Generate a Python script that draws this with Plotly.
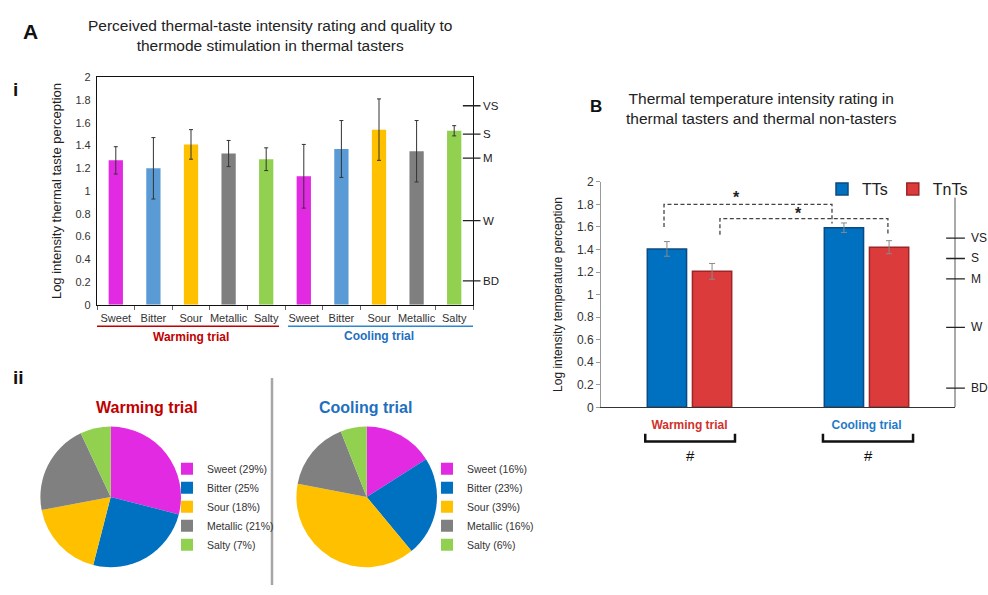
import plotly.graph_objects as go

W, H = 988, 595
FONT = "Liberation Sans, Arial, sans-serif"


def px(x):
    return x / W


def py(y):
    return 1 - y / H


# ---------------- data ----------------
tastes = ["Sweet", "Bitter", "Sour", "Metallic", "Salty"]
bar_colors = ["#E32AE3", "#5B9BD5", "#FFC000", "#7F7F7F", "#92D050"]
pie_colors = ["#E32AE3", "#0070C0", "#FFC000", "#808080", "#92D050"]

warm_vals = [1.27, 1.20, 1.41, 1.33, 1.28]
warm_err = [0.12, 0.27, 0.13, 0.115, 0.10]
cool_vals = [1.13, 1.37, 1.54, 1.35, 1.53]
cool_err = [0.28, 0.25, 0.27, 0.27, 0.045]

scaleA_labels = ["VS", "S", "M", "W", "BD"]
scaleA_vals = [1.75, 1.50, 1.29, 0.74, 0.21]

warm_pie = [29, 25, 18, 21, 7]
warm_pie_labels = ["Sweet (29%)", "Bitter (25%", "Sour (18%)", "Metallic (21%)", "Salty (7%)"]
cool_pie = [16, 23, 39, 16, 6]
cool_pie_labels = ["Sweet (16%)", "Bitter (23%)", "Sour (39%)", "Metallic (16%)", "Salty (6%)"]

trials = ["Warming trial", "Cooling trial"]
tts_vals = [1.405, 1.593]
tts_err = [0.065, 0.042]
tnts_vals = [1.206, 1.42]
tnts_err = [0.07, 0.058]

scaleB_labels = ["VS", "S", "M", "W", "BD"]
scaleB_vals = [1.50, 1.32, 1.14, 0.71, 0.17]

# ---------------- figure ----------------
fig = go.Figure()

# Panel A bars
xA = list(range(len(tastes) * 2))
fig.add_trace(go.Bar(
    x=xA, y=warm_vals + cool_vals,
    marker=dict(color=bar_colors + bar_colors, line=dict(width=0)),
    error_y=dict(type="data", array=warm_err + cool_err, color="#333333",
                 thickness=1, width=2),
    width=0.38, offset=-0.19, xaxis="x", yaxis="y", showlegend=False,
))

# Panel B bars
fig.add_trace(go.Bar(
    x=trials, y=tts_vals, name="TTs",
    marker=dict(color="#0070C0", line=dict(color="#0B4A80", width=1.5)),
    error_y=dict(type="data", array=tts_err, color="#8A8A8A", thickness=1, width=3),
    xaxis="x2", yaxis="y2", legend="legend",
))
fig.add_trace(go.Bar(
    x=trials, y=tnts_vals, name="TnTs",
    marker=dict(color="#DB3B3B", line=dict(color="#9E2525", width=1.5)),
    error_y=dict(type="data", array=tnts_err, color="#8A8A8A", thickness=1, width=3),
    xaxis="x2", yaxis="y2", legend="legend",
))

# Pies
r = 72
for cx, vals, labs, leg in [(110.7, warm_pie, warm_pie_labels, "legend2"),
                            (366.7, cool_pie, cool_pie_labels, "legend3")]:
    fig.add_trace(go.Pie(
        values=vals, labels=labs, marker=dict(colors=pie_colors, line=dict(width=0)),
        sort=False, direction="clockwise", rotation=0, textinfo="none",
        hoverinfo="label", legend=leg,
        domain=dict(x=[px(cx - r), px(cx + r)], y=[py(501.7 + r), py(501.7 - r)]),
    ))

shapes = []
annotations = []

# Panel A right scale
for lab, v in zip(scaleA_labels, scaleA_vals):
    shapes.append(dict(type="line", xref="x domain", yref="y", x0=0.973, x1=1.02,
                       y0=v, y1=v, line=dict(color="#222222", width=1.3)))
    annotations.append(dict(xref="x domain", yref="y", x=1.022, y=v, text=lab,
                            showarrow=False, xanchor="left", yanchor="middle",
                            font=dict(size=11.5, color="#222222")))

# Panel A trial underlines and labels
shapes.append(dict(type="line", xref="x", yref="paper", x0=-0.66, x1=4.34,
                   y0=py(327), y1=py(327), line=dict(color="#C00000", width=1.5)))
shapes.append(dict(type="line", xref="x", yref="paper", x0=4.58, x1=9.58,
                   y0=py(327), y1=py(327), line=dict(color="#2F86D0", width=1.5)))
annotations.append(dict(xref="x", yref="paper", x=2.0, y=py(338), text="<b>Warming trial</b>",
                        showarrow=False, yanchor="middle", font=dict(size=12, color="#C00000")))
annotations.append(dict(xref="x", yref="paper", x=7.0, y=py(337), text="<b>Cooling trial</b>",
                        showarrow=False, yanchor="middle", font=dict(size=12, color="#1F6FC0")))

# Panel B right scale
shapes.append(dict(type="line", xref="x2 domain", yref="y2", x0=1, x1=1, y0=0, y1=1.86,
                   line=dict(color="#555555", width=1)))
for lab, v in zip(scaleB_labels, scaleB_vals):
    shapes.append(dict(type="line", xref="x2 domain", yref="y2", x0=0.975, x1=1.028,
                       y0=v, y1=v, line=dict(color="#222222", width=1.3)))
    annotations.append(dict(xref="x2 domain", yref="y2", x=1.04, y=v, text=lab,
                            showarrow=False, xanchor="left", yanchor="middle",
                            font=dict(size=12, color="#222222")))

# Panel B significance brackets (dashed)
dash = dict(color="#444444", width=1.3, dash="4px,2.5px")
shapes.append(dict(type="path", xref="x2", yref="y2",
                   path="M -0.144,1.60 L -0.144,1.80 L 0.805,1.80 L 0.805,1.63", line=dash))
shapes.append(dict(type="path", xref="x2", yref="y2",
                   path="M 0.172,1.53 L 0.172,1.673 L 1.121,1.673 L 1.121,1.53", line=dash))
annotations.append(dict(xref="x2", yref="y2", x=0.263, y=1.86, text="<b>*</b>",
                        showarrow=False, font=dict(size=16, color="#222222")))
annotations.append(dict(xref="x2", yref="y2", x=0.613, y=1.72, text="<b>*</b>",
                        showarrow=False, font=dict(size=16, color="#222222")))

# Panel B bottom brackets and #
for x0, x1 in [(-0.25, 0.257), (0.754, 1.263)]:
    shapes.append(dict(type="path", xref="x2", yref="paper",
                       path=f"M {x0},{py(437)} L {x0},{py(445)} L {x1},{py(445)} L {x1},{py(437)}",
                       line=dict(color="#111111", width=2.5)))
    annotations.append(dict(xref="x2", yref="paper", x=(x0 + x1) / 2, y=py(459), text="#",
                            showarrow=False, yanchor="middle",
                            font=dict(size=15, color="#111111")))

# Separator line for pies
shapes.append(dict(type="line", xref="paper", yref="paper", x0=px(272), x1=px(272),
                   y0=py(380), y1=py(592), line=dict(color="#A6A6A6", width=2.5)))

# Texts: panel letters and titles
def txt(x, y, s, size, color="#111111", anchor="center"):
    annotations.append(dict(xref="paper", yref="paper", x=px(x), y=py(y), text=s,
                            showarrow=False, xanchor=anchor, yanchor="middle",
                            font=dict(size=size, color=color)))

txt(31, 25, "<b>A</b>", 21)
txt(270, 29, "Perceived thermal-taste intensity rating and quality to<br>thermode stimulation in thermal tasters", 15.5, "#222222")
txt(15, 84, "<b>i</b>", 19)
txt(18, 379, "<b>ii</b>", 19)
txt(147, 410, "<b>Warming trial</b>", 16, "#C00000")
txt(365, 410, "<b>Cooling trial</b>", 16, "#1F6FC0")
txt(596, 102, "<b>B</b>", 17)
txt(761, 104, "Thermal temperature intensity rating in<br>thermal tasters and thermal non-tasters", 15.5, "#222222")

axis_font = dict(size=11, color="#333333")
fig.update_layout(
    width=W, height=H, margin=dict(l=0, r=0, t=0, b=0),
    paper_bgcolor="white", plot_bgcolor="white",
    font=dict(family=FONT, color="#222222"),
    barmode="group", bargap=0.49, bargroupgap=0.13,
    xaxis=dict(domain=[px(97), px(473)], range=[-0.5, 9.5], tickmode="array", anchor="y",
               tickvals=xA, ticktext=tastes + tastes, ticks="", tickfont=axis_font,
               ticklabelstandoff=3,
               showline=True, linecolor="#111111", linewidth=1.2, mirror=True,
               showgrid=False, zeroline=False, fixedrange=True,
               minor=dict(ticks="outside", tickmode="linear", tick0=-0.5, dtick=1,
                          ticklen=4, tickcolor="#666666")),
    yaxis=dict(domain=[py(305), py(72)], range=[0, 2], dtick=0.2, tickfont=axis_font,
               anchor="x", showline=True, linecolor="#111111", linewidth=1.2, mirror=True,
               showgrid=False, zeroline=False, ticks="", ticklabelstandoff=3,
               title=dict(text="Log intensity thermal taste perception",
                          font=dict(size=13, color="#222222"), standoff=10)),
    xaxis2=dict(domain=[px(601), px(955)], range=[-0.5, 1.5], type="category", anchor="y2",
                tickmode="array", tickvals=trials,
                ticktext=["<b><span style='color:#D0312D'>Warming trial</span></b>",
                          "<b><span style='color:#1F7BC8'>Cooling trial</span></b>"],
                ticks="", tickfont=dict(size=12), ticklabelstandoff=6,
                showline=True, linecolor="#333333",
                linewidth=1.3, showgrid=False, zeroline=False),
    yaxis2=dict(domain=[py(410), py(179)], range=[0, 2], dtick=0.2, anchor="x2",
                tickfont=dict(size=12, color="#333333"), showline=True,
                linecolor="#999999", linewidth=1, ticks="outside", ticklen=4,
                tickcolor="#999999", showgrid=False, zeroline=False,
                title=dict(text="Log intensity temperature perception",
                           font=dict(size=12, color="#222222"), standoff=11)),
    legend=dict(orientation="h", x=px(822), y=py(169), xanchor="left", yanchor="top",
                font=dict(size=16, color="#222222"), bgcolor="rgba(0,0,0,0)"),
    legend2=dict(x=px(167), y=py(458), xanchor="left", yanchor="top",
                 font=dict(size=10.5, color="#333333"), bgcolor="rgba(0,0,0,0)",
                 tracegroupgap=0),
    legend3=dict(x=px(427), y=py(458), xanchor="left", yanchor="top",
                 font=dict(size=10.5, color="#333333"), bgcolor="rgba(0,0,0,0)",
                 tracegroupgap=0),
    shapes=shapes, annotations=annotations,
)

fig.write_html("out.html")
